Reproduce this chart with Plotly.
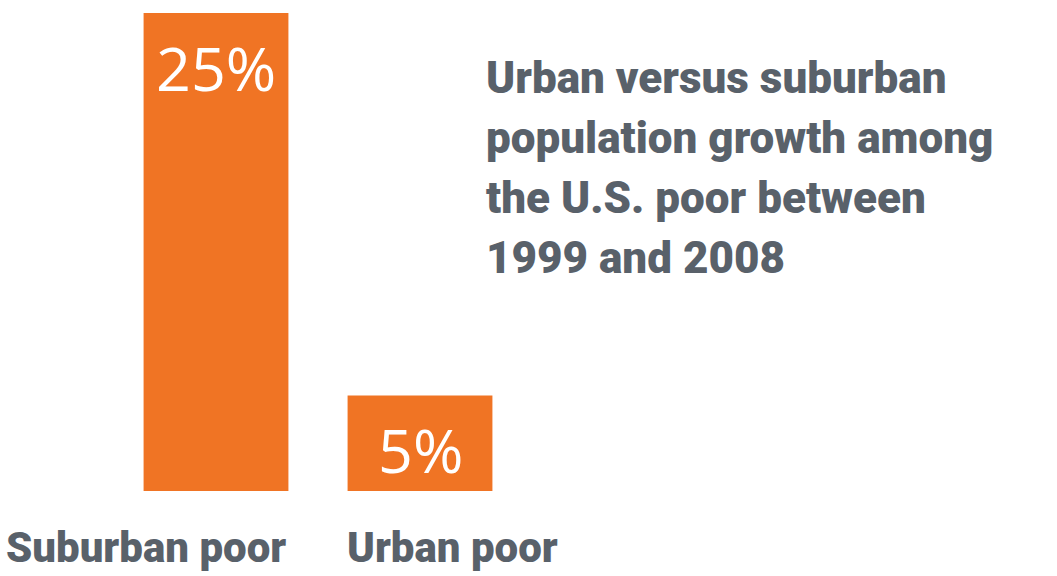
import plotly.graph_objects as go

categories = ["Suburban poor", "Urban poor"]
values = [25, 5]
value_labels = ["25%", "5%"]
title_lines = ["Urban versus suburban", "population growth among", "the U.S. poor between", "1999 and 2008"]

ORANGE = "#f07424"
GRAY = "#59616a"

W, H = 1057, 576
fig = go.Figure()
fig.add_trace(go.Bar(
    x=categories, y=values, width=0.71,
    marker=dict(color=ORANGE, line=dict(width=0)),
    hoverinfo="skip",
))

for c, v, t in zip(categories, values, value_labels):
    fig.add_annotation(x=c, y=v, xref="x", yref="y", text=t, showarrow=False,
                       xanchor="center", yanchor="top", yshift=-11,
                       font=dict(family="Open Sans", size=61, color="white", weight=500))

label_shift = [-70, 32]
for c, s in zip(categories, label_shift):
    fig.add_annotation(x=c, y=0, yref="y", xref="x", text=c,
                       showarrow=False, xanchor="center", yanchor="top", xshift=s, yshift=-30,
                       font=dict(family="Roboto", size=42, color=GRAY, weight=900))

for i, line in enumerate(title_lines):
    fig.add_annotation(xref="paper", yref="paper", x=484 / W, y=1 - (50 + 60 * i) / H,
                       xanchor="left", yanchor="top", align="left", showarrow=False,
                       text=line,
                       font=dict(family="Roboto", size=44, color=GRAY, weight=900))

fig.update_layout(
    width=W, height=H, margin=dict(l=0, r=0, t=0, b=0),
    paper_bgcolor="white", plot_bgcolor="white", showlegend=False,
    xaxis=dict(type="category", range=[-1.0588, 4.1225], visible=False),
    yaxis=dict(range=[-4.446, 25.68], visible=False),
)
fig.write_html("out.html")
